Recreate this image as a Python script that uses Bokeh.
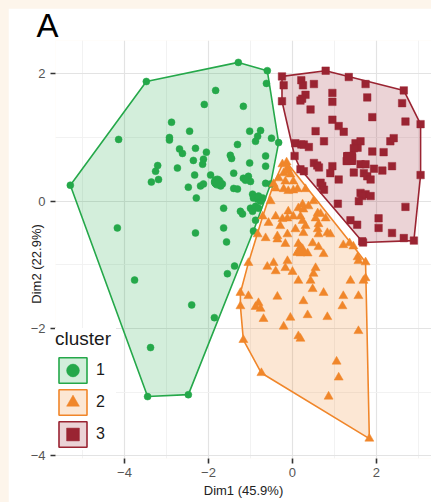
from bokeh.plotting import figure
from bokeh.models import (ColumnDataSource, Legend, LegendItem, FixedTicker,
                          Range1d, GlobalInlineStyleSheet)
from bokeh.embed import file_html
from bokeh.resources import INLINE

# ---- data (Dim1, Dim2) ----
c1_x = [-5.29, -3.48, -1.29, -0.60, -0.62, -1.83, -2.10, -1.17, -4.14, -2.88, -2.45, -2.93, -2.93,
        -1.02, -0.76, -0.83, -0.88, -0.50, -0.33, -1.31, -2.69, -2.62, -2.31, -2.05, -2.36, -2.12,
        -2.14, -1.48, -1.45, -1.02, -0.64, -0.64, -3.21, -3.26, -2.74, -2.33, -1.95, -1.40, -1.17,
        -1.05, -1.00, -1.12, -3.36, -3.19, -1.83, -1.76, -1.71, -1.67, -2.48, -2.19, -2.12, -1.40,
        -1.31, -0.64, -0.52, -2.29, -0.95, -0.93, -0.83, -0.76, -0.81, -0.71, -1.64, -1.24, -1.19,
        -1.00, -0.95, -0.88, -0.81, -0.88, -1.64, -0.93, -1.57, -4.17, -2.31, -3.76, -2.40, -1.86,
        -3.38, -3.45, -2.48, -1.38, -1.55]
c1_y = [0.25, 1.88, 2.18, 2.05, 1.85, 1.74, 1.52, 1.49, 0.97, 1.24, 1.10, 1.00, 0.96,
        1.10, 1.11, 1.02, 0.94, 0.99, 0.92, 0.89, 0.82, 0.75, 0.83, 0.77, 0.64, 0.66,
        0.58, 0.72, 0.67, 0.60, 0.71, 0.55, 0.56, 0.47, 0.52, 0.41, 0.41, 0.44, 0.36,
        0.39, 0.31, 0.33, 0.30, 0.34, 0.31, 0.28, 0.24, 0.27, 0.22, 0.24, 0.27, 0.20,
        0.19, 0.28, 0.27, 0.05, 0.11, 0.05, 0.03, 0.00, 0.08, 0.05, -0.11, -0.16, -0.20,
        -0.11, -0.16, -0.08, -0.11, -0.30, -0.42, -0.47, -0.64, -0.42, -0.50, -1.24, -1.63, -1.83,
        -2.30, -3.07, -3.04, -1.02, -1.14]

c2_x = [-0.14, -0.24, -0.12, -0.21, -0.10, -0.05, -0.33, -0.17, 0.02, -0.45, -0.40, -0.21, -0.10,
        0.02, 0.12, 0.31, -0.52, 0.24, 0.14, 0.26, 0.38, 0.50, -0.10, 0.02, -0.12, -0.24, -0.40,
        0.60, 0.67, 0.79, 0.55, 0.19, 0.24, 0.31, 0.62, 0.60, -0.57, -0.29, 0.07, 0.26, 0.83,
        -0.36, -0.12, -0.71, -0.83, -0.64, -0.36, -0.17, 0.62, 0.90, 0.14, 0.24, 0.19, 0.36,
        0.48, 0.62, 0.74, 1.21, 1.36, 1.45, -1.05, -0.60, -0.45, -0.40, -0.17, -0.12, 0.00,
        0.55, 0.50, 0.43, 0.14, 1.55, 1.38, 1.74, 1.69, 1.74, 1.57, -1.24, -1.05, -0.36, 0.48,
        0.74, 1.21, 1.57, -1.24, -0.81, -0.88, -0.76, 0.26, 1.19, -0.69, -0.05, 0.36, 0.83,
        -0.21, 0.14, 0.19, 1.57, -1.17, 1.05, 1.10, 0.86, -0.74, 1.83]
c2_y = [0.61, 0.58, 0.52, 0.44, 0.47, 0.42, 0.36, 0.31, 0.31, 0.27, 0.20, 0.19, 0.16,
        0.17, 0.19, 0.19, 0.00, -0.05, -0.11, -0.13, -0.08, 0.00, -0.16, -0.24, -0.27, -0.28, -0.24,
        -0.19, -0.20, -0.27, -0.27, -0.24, -0.31, -0.39, -0.36, -0.44, -0.34, -0.39, -0.44, -0.50, -0.50,
        -0.55, -0.52, -0.24, -0.52, -0.58, -0.60, -0.67, -0.52, -0.52, -0.67, -0.75, -0.82, -0.82,
        -0.66, -0.72, -0.83, -0.69, -0.66, -0.71, -0.97, -1.03, -0.97, -1.10, -1.05, -0.94, -1.11,
        -1.05, -1.14, -1.25, -1.25, -0.88, -1.25, -1.21, -1.25, -0.96, -0.94, -1.44, -1.49, -1.50, -1.38,
        -1.44, -1.49, -1.49, -1.65, -1.60, -1.66, -1.69, -1.57, -1.65, -1.85, -1.83, -1.79, -1.82,
        -1.97, -2.12, -2.16, -2.04, -2.18, -2.52, -2.77, -3.07, -2.70, -3.73]

c3_x = [-0.25, 0.79, 1.34, 0.21, 0.25, 0.51, -0.21, 1.74, 2.65, 0.95, 0.31, 0.23, 0.19, 1.78,
        -0.25, 2.61, 0.43, 0.95, 1.90, 2.69, 3.05, 0.95, 1.10, 1.22, 0.55, 0.75, 0.07, 0.21,
        0.27, 0.39, 1.50, 1.62, 1.55, 1.46, 2.33, 2.41, 0.05, 1.90, 2.17, 1.34, 1.38, 1.29,
        1.42, 0.51, 0.59, 0.63, 0.95, 1.46, 1.62, 1.74, 1.70, 1.78, 1.86, 1.94, 2.14, 2.37,
        3.05, 0.19, 0.27, 0.90, 0.67, 0.71, 0.75, 1.10, 1.62, 1.74, 1.86, 1.66, 1.58, 1.08,
        2.69, 1.38, 1.54, 2.05, 2.05, 2.37, 1.66, 1.68, 2.65, 2.89]
c3_y = [1.96, 2.05, 1.95, 1.90, 1.82, 1.84, 1.82, 1.84, 1.74, 1.70, 1.67, 1.61, 1.58, 1.63,
        1.57, 1.54, 1.44, 1.56, 1.32, 1.25, 1.21, 1.28, 1.18, 1.09, 1.10, 0.94, 0.91, 0.89,
        0.89, 0.85, 0.91, 0.94, 0.84, 0.83, 0.94, 0.99, 0.71, 0.78, 0.77, 0.71, 0.65, 0.63,
        0.68, 0.60, 0.56, 0.53, 0.55, 0.45, 0.58, 0.58, 0.44, 0.39, 0.34, 0.51, 0.48, 0.55,
        0.41, 0.50, 0.47, 0.44, 0.29, 0.24, 0.18, 0.34, 0.13, 0.11, 0.08, 0.08, 0.00, -0.04,
        -0.09, -0.30, -0.37, -0.27, -0.42, -0.50, -0.63, -0.65, -0.58, -0.62]

center_x = [-1.79, 0.19, 1.36]
center_y = [0.30, -0.78, 0.67]

clusters = ["1", "2", "3"]
colors = ["#25A84A", "#F0862A", "#9A2432"]
markers = ["circle", "triangle", "square"]
point_sizes = [7, 9, 7.5]
center_sizes = [12, 15, 12]

x_ticks = [-4, -2, 0, 2]
x_minor = [-5, -3, -1, 1, 3]
y_ticks = [-4, -2, 0, 2]
y_minor = [-3, -1, 1]


def convex_hull(xs, ys):
    pts = sorted(set(zip(xs, ys)))

    def cross(o, a, b):
        return (a[0] - o[0]) * (b[1] - o[1]) - (a[1] - o[1]) * (b[0] - o[0])

    lower = []
    for pt in pts:
        while len(lower) >= 2 and cross(lower[-2], lower[-1], pt) <= 0:
            lower.pop()
        lower.append(pt)
    upper = []
    for pt in reversed(pts):
        while len(upper) >= 2 and cross(upper[-2], upper[-1], pt) <= 0:
            upper.pop()
        upper.append(pt)
    h = lower[:-1] + upper[:-1]
    return [q[0] for q in h], [q[1] for q in h]


FONT = "Liberation Sans"

p = figure(width=423, height=494, output_backend="svg", toolbar_location=None,
           x_range=Range1d(-5.643, 3.31), y_range=Range1d(-4.043, 2.524),
           min_border_left=47, min_border_right=0, min_border_top=31, min_border_bottom=44)
p.outline_line_color = None
p.background_fill_color = "white"
p.border_fill_color = "white"

p.title.text = "A"
p.title.text_font = FONT
p.title.text_font_size = "33px"
p.title.text_font_style = "normal"
p.title.text_color = "black"
p.title.align = "left"
p.title.offset = -19
p.title.standoff = -7

p.xaxis.ticker = FixedTicker(ticks=x_ticks, minor_ticks=x_minor)
p.yaxis.ticker = FixedTicker(ticks=y_ticks, minor_ticks=y_minor)
for ax in (p.xaxis, p.yaxis):
    ax.axis_line_color = None
    ax.major_tick_line_color = "#333333"
    ax.major_tick_line_width = 1.6
    ax.major_tick_out = 5
    ax.major_tick_in = 0
    ax.minor_tick_line_color = None
    ax.major_label_text_font = FONT
    ax.major_label_text_font_size = "13px"
    ax.major_label_text_color = "#555555"
    ax.axis_label_text_font = FONT
    ax.axis_label_text_font_size = "13px"
    ax.axis_label_text_font_style = "normal"
    ax.axis_label_text_color = "#222222"
p.xaxis.axis_label = "Dim1 (45.9%)"
# trailing no-break spaces move the visible label a little down the axis, as in the reference
p.yaxis.axis_label = "Dim2 (22.9%)" + "\u00a0" * 8
p.xaxis.major_label_standoff = 4
p.yaxis.major_label_standoff = 5
p.xaxis.axis_label_standoff = 3
p.yaxis.axis_label_standoff = -16

for g in (p.xgrid, p.ygrid):
    g.grid_line_color = "#e3e3e3"
    g.grid_line_width = 1.2
    g.minor_grid_line_color = "#f0f0f0"
    g.minor_grid_line_width = 0.9

xs_all = [c1_x, c2_x, c3_x]
ys_all = [c1_y, c2_y, c3_y]

patch_renderers = []
for xs, ys, col in zip(xs_all, ys_all, colors):
    hx, hy = convex_hull(xs, ys)
    r = p.patch(hx, hy, fill_color=col, fill_alpha=0.2, line_color=col, line_width=1.6)
    patch_renderers.append(r)

scatter_renderers = []
for i, (xs, ys, col) in enumerate(zip(xs_all, ys_all, colors)):
    src = ColumnDataSource(dict(x=xs, y=ys))
    r = p.scatter("x", "y", source=src, marker=markers[i], size=point_sizes[i],
                  fill_color=col, line_color=col, line_width=0.5)
    scatter_renderers.append(r)
    p.scatter([center_x[i]], [center_y[i]], marker=markers[i], size=center_sizes[i],
              fill_color=col, line_color=col)

items = [LegendItem(label=clusters[i], renderers=[patch_renderers[i], scatter_renderers[i]])
         for i in range(3)]
legend = Legend(items=items, location=(0, 8), title="cluster",
                title_text_font=FONT, title_text_font_size="19px", title_text_color="#1a1a1a",
                title_text_font_style="normal", title_standoff=4,
                label_text_font=FONT, label_text_font_size="16px", label_text_color="#1a1a1a",
                glyph_width=35, glyph_height=32, spacing=0, padding=0, margin=0,
                label_standoff=6, border_line_color=None,
                background_fill_color="white", background_fill_alpha=1.0)
p.add_layout(legend)

p.stylesheets = [GlobalInlineStyleSheet(
    css="html, body { background-color: #fdf5eb; overflow: hidden; } "
        "body { margin: 8px 0 0 8px !important; padding: 0; }")]

open("out.html", "w").write(file_html(p, INLINE))
